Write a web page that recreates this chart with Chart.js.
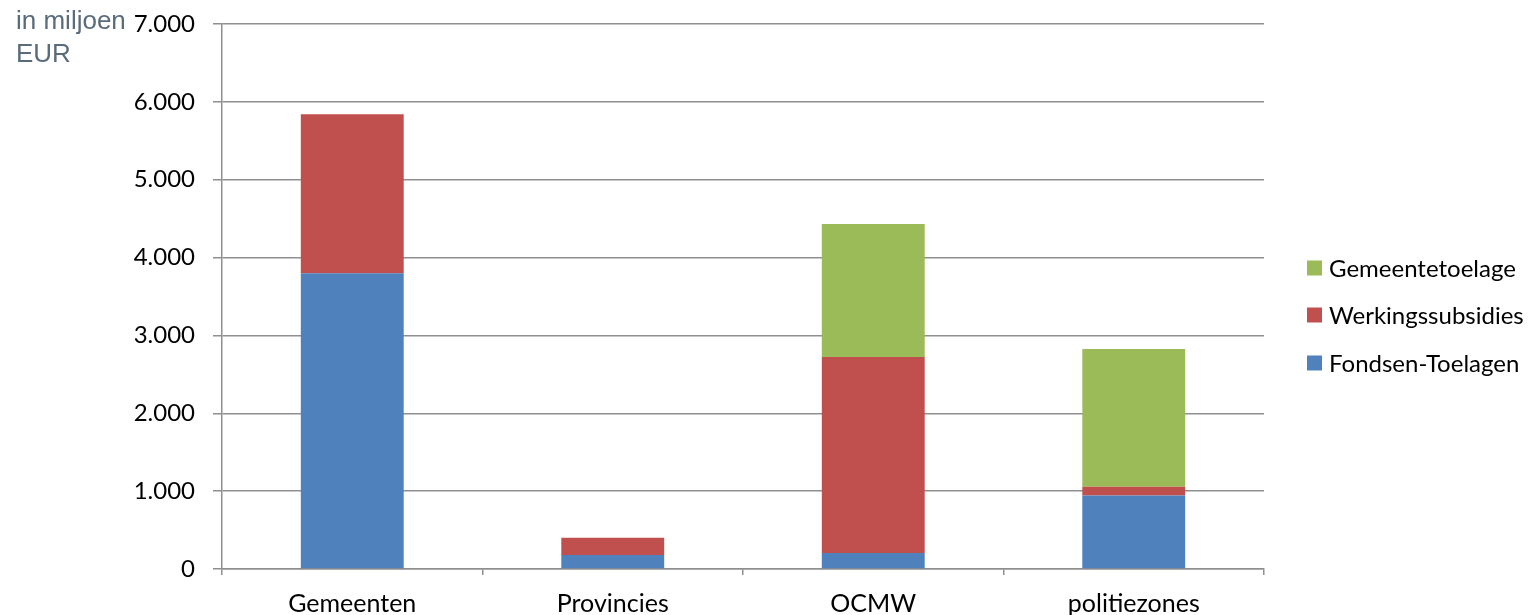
<!DOCTYPE html>
<html>
<head>
<meta charset="utf-8">
<script src="https://cdn.jsdelivr.net/npm/chart.js@4"></script>
<style>
  html, body { margin: 0; padding: 0; background: #fff; }
  #wrap { width: 1531px; height: 615px; position: relative; }
</style>
</head>
<body>
<div id="wrap"><canvas id="c"></canvas></div>
<script>
const categories = ['Gemeenten', 'Provincies', 'OCMW', 'politiezones'];
const fondsenToelagen = [3800, 180, 205, 945];
const werkingssubsidies = [2040, 220, 2518, 110];
const gemeentetoelage = [0, 0, 1708, 1770];
const yTicks = [0, 1000, 2000, 3000, 4000, 5000, 6000, 7000];
const axisTitle = ['in miljoen', 'EUR'];

const COLORS = { blue: '#4f81bd', red: '#c0504d', green: '#9bbb59' };
const GRID = '#8f8f8f';

function fmt(v) {
  return v.toLocaleString('de-DE');
}

const legendPlugin = {
  id: 'sideLegend',
  afterDraw(chart) {
    const ctx = chart.ctx;
    const ds = chart.data.datasets.slice().reverse();
    const x0 = chart.chartArea.right + 43;
    const ys = [268, 315, 363];
    ctx.save();
    ctx.font = '24px Lato';
    ctx.textBaseline = 'middle';
    ctx.textAlign = 'left';
    ds.forEach((d, i) => {
      ctx.fillStyle = d.backgroundColor;
      ctx.fillRect(x0, ys[i] - 7.5, 15, 15);
      ctx.fillStyle = '#000';
      ctx.fillText(d.label, x0 + 22, ys[i] + 1);
    });
    ctx.restore();
  }
};

const titlePlugin = {
  id: 'axisTitleTopLeft',
  afterDraw(chart) {
    const ctx = chart.ctx;
    ctx.save();
    ctx.font = '26px "Liberation Sans"';
    ctx.fillStyle = '#5a6b7b';
    ctx.textBaseline = 'middle';
    ctx.textAlign = 'left';
    ctx.fillText(axisTitle[0], 16, 22);
    ctx.fillText(axisTitle[1], 16, 55);
    ctx.restore();
  }
};

new Chart(document.getElementById('c'), {
  type: 'bar',
  data: {
    labels: categories,
    datasets: [
      { label: 'Fondsen-Toelagen', data: fondsenToelagen, backgroundColor: COLORS.blue },
      { label: 'Werkingssubsidies', data: werkingssubsidies, backgroundColor: COLORS.red },
      { label: 'Gemeentetoelage', data: gemeentetoelage, backgroundColor: COLORS.green }
    ]
  },
  options: {
    responsive: true,
    maintainAspectRatio: false,
    animation: false,
    events: [],
    datasets: { bar: { barPercentage: 1, categoryPercentage: 0.395, borderWidth: 0 } },
    layout: { padding: { left: 0, right: 267, top: 24, bottom: 0 } },
    plugins: { legend: { display: false }, tooltip: { enabled: false } },
    scales: {
      x: {
        stacked: true,
        afterFit(s) { s.height = 46; s.paddingLeft = 0; s.paddingRight = 0; },
        grid: { offset: true, drawOnChartArea: false, drawTicks: true, tickLength: 6, color: GRID, lineWidth: 1.5 },
        border: { display: true, color: GRID, width: 1.5 },
        ticks: { color: '#000', font: { family: 'Lato', size: 25 }, padding: 14 }
      },
      y: {
        stacked: true,
        min: 0,
        max: 7000,
        afterFit(s) { s.width = 222; s.paddingTop = 0; s.paddingBottom = 0; },
        afterBuildTicks(s) { s.ticks = yTicks.map(v => ({ value: v })); },
        grid: { color: GRID, lineWidth: 1.5, drawTicks: true, tickLength: 9 },
        border: { display: true, color: GRID, width: 1.5 },
        ticks: { color: '#000', font: { family: 'Lato', size: 24 }, padding: 18, callback: v => fmt(v) }
      }
    }
  },
  plugins: [legendPlugin, titlePlugin]
});
</script>
</body>
</html>
